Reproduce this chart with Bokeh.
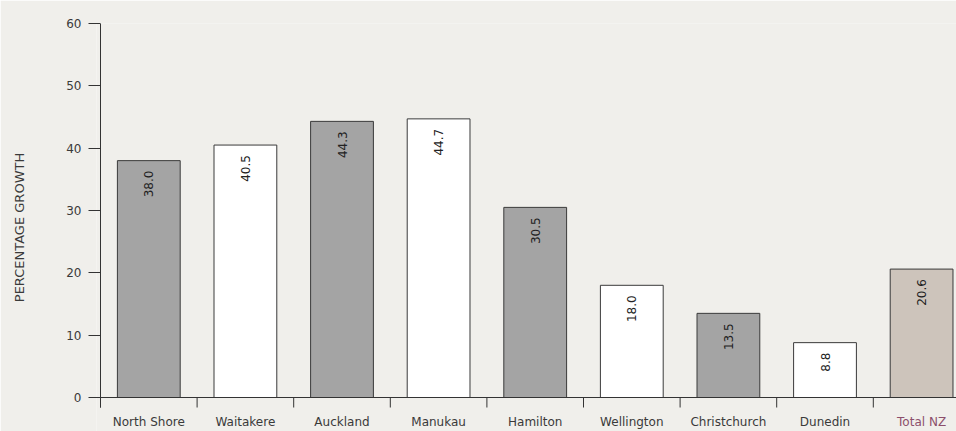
import math
from bokeh.plotting import figure
from bokeh.models import Range1d, FixedTicker, ColumnDataSource
from bokeh.core.properties import value
from bokeh.embed import file_html
from bokeh.resources import INLINE

# Population growth by city (percent)
cities = ["North Shore", "Waitakere", "Auckland", "Manukau", "Hamilton",
          "Wellington", "Christchurch", "Dunedin", "Total NZ"]
growth = [38.0, 40.5, 44.3, 44.7, 30.5, 18.0, 13.5, 8.8, 20.6]
fills = ["#a4a4a4", "#ffffff", "#a4a4a4", "#ffffff", "#a4a4a4",
         "#ffffff", "#a4a4a4", "#ffffff", "#cdc4bb"]
name_colors = ["#3a3a3a"] * 8 + ["#8c4f6c"]
y_ticks = [0, 10, 20, 30, 40, 50, 60]

FONT = "DejaVu Sans"
BG = "#f0efeb"
INK = "#333333"
TXT = "#3a3a3a"

# page geometry (pixels)
W, H = 956, 431
LEFT, TOP = 96, 23
CAT_PX = 96.6            # width of one category slot
AXIS_PX = 374            # height of the 0..60 span
TICK_PX = 10             # length of the boundary ticks below the baseline
GAP_PX = 4               # frame edge sits this far left of the vertical axis

px_per_unit = AXIS_PX / max(y_ticks)
y_start = -(H - TOP - AXIS_PX) / px_per_unit
x_start = -GAP_PX / CAT_PX
x_end = x_start + (W - LEFT) / CAT_PX
tick_len = TICK_PX / px_per_unit

centers = [i + 0.5 for i in range(len(cities))]
bounds = list(range(len(cities) + 1))

bars = ColumnDataSource(dict(
    x=centers, top=growth, fill=fills,
    label=[f"{v:.1f}" for v in growth],
    name=cities, name_color=name_colors,
))

p = figure(width=W, height=H, output_backend="svg", toolbar_location=None,
           x_range=Range1d(x_start, x_end), y_range=Range1d(y_start, max(y_ticks)),
           min_border_left=LEFT, min_border_right=0,
           min_border_top=TOP, min_border_bottom=0)
p.border_fill_color = BG
p.background_fill_color = BG
p.outline_line_color = None
p.grid.grid_line_color = None
p.xaxis.visible = False

p.vbar(x="x", top="top", width=0.65, bottom=0, source=bars,
       fill_color="fill", line_color="#3a3a3a", line_width=1)

# values written up the inside of each bar
p.text(x="x", y="top", text="label", source=bars, angle=math.pi / 2,
       text_align="right", text_baseline="middle", y_offset=10,
       text_font=value(FONT), text_font_size="12px", text_color="#222222")

# baseline, vertical axis line and the category boundary ticks
p.segment(x0=[0], y0=[0], x1=[len(cities)], y1=[0], line_color=INK, line_width=1)
p.segment(x0=[0], y0=[-tick_len], x1=[0], y1=[max(y_ticks)], line_color=INK, line_width=1)
p.segment(x0=bounds, y0=[0] * len(bounds), x1=bounds, y1=[-tick_len] * len(bounds),
          line_color=INK, line_width=1)

# category names under the baseline
p.text(x="x", y=0, text="name", source=bars, y_offset=24,
       text_align="center", text_baseline="middle",
       text_font=value(FONT), text_font_size="12px", text_color="name_color")

# y axis, limited to the 0..60 span so its title centres on it
p.yaxis.bounds = (min(y_ticks), max(y_ticks))
p.yaxis.ticker = FixedTicker(ticks=y_ticks)
p.yaxis.axis_line_color = None
p.yaxis.major_tick_out = 8
p.yaxis.major_tick_in = 4
p.yaxis.major_tick_line_color = INK
p.yaxis.minor_tick_line_color = None
p.yaxis.major_label_standoff = 7
p.yaxis.major_label_text_font = FONT
p.yaxis.major_label_text_font_size = "12px"
p.yaxis.major_label_text_color = TXT
p.yaxis.axis_label = "PERCENTAGE GROWTH"
p.yaxis.axis_label_text_font = FONT
p.yaxis.axis_label_text_font_size = "13px"
p.yaxis.axis_label_text_font_style = "normal"
p.yaxis.axis_label_text_color = TXT
p.yaxis.axis_label_standoff = 36

open("out.html", "w").write(file_html(p, INLINE))
